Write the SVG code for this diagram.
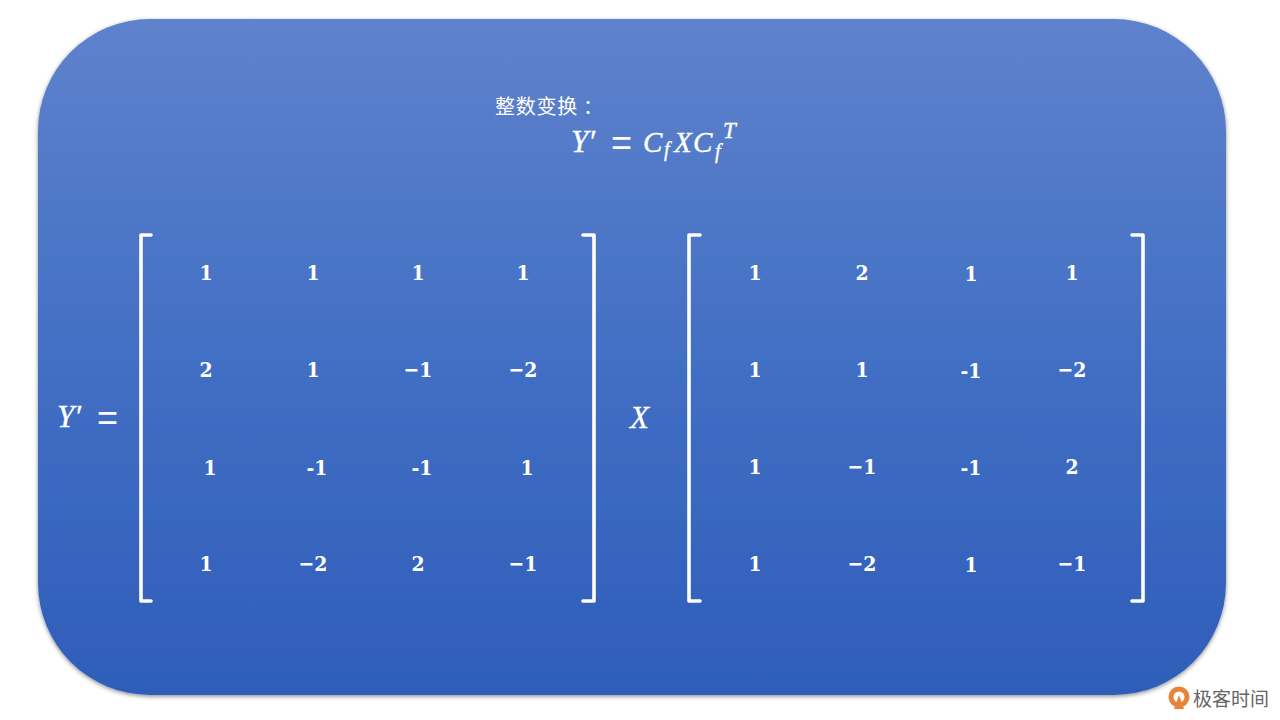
<svg xmlns="http://www.w3.org/2000/svg" width="1280" height="720" viewBox="0 0 1280 720">
<style>
.n{font-family:"DejaVu Serif Condensed","DejaVu Serif","Liberation Serif",serif;font-weight:700;font-size:21px;fill:#fff;text-anchor:middle}
.m{font-family:"Liberation Serif","DejaVu Serif",serif;font-style:italic;font-size:31px;fill:#fff;stroke:#fff;stroke-width:0.35}
.e{font-family:"Liberation Sans",sans-serif;font-size:36px;fill:#fff}
.b{fill:none;stroke:#fff;stroke-width:3.6;stroke-linejoin:round;stroke-linecap:round}
</style>
<defs>
<linearGradient id="bg" x1="0" y1="0" x2="0" y2="1"><stop offset="0" stop-color="#5f82cc"/><stop offset="0.5" stop-color="#426fc4"/><stop offset="1" stop-color="#2e5db9"/></linearGradient>
<filter id="sh" x="-5%" y="-5%" width="110%" height="110%"><feDropShadow dx="0" dy="1.5" stdDeviation="2" flood-color="#000" flood-opacity="0.45"/></filter>
</defs>
<rect id="panel" x="38" y="19" width="1188" height="676" rx="112" ry="112" fill="url(#bg)" filter="url(#sh)"/>
<g id="title">
<text x="495" y="114" font-family="'Noto Sans CJK SC','Noto Sans',sans-serif" font-size="20" letter-spacing="0.75" fill="#fff">整数变换<tspan dx="5">：</tspan></text>
<text class="m" x="571" y="152">Y′</text>
<text class="e" x="611" y="155">=</text>
<text class="m" x="643" y="152" style="font-size:29px">C</text><text class="m" x="664" y="156" style="font-size:20px">f</text>
<text class="m" x="674" y="152" style="font-size:29px">X</text>
<text class="m" x="693" y="152" style="font-size:29px">C</text><text class="m" x="715" y="158" style="font-size:20px">f</text>
<text class="m" x="723" y="138" style="font-size:23px">T</text>
</g>
<g id="lhs"><text class="m" x="57" y="427">Y′</text><text class="e" x="97" y="430">=</text></g>
<g id="left-matrix">
<path class="b" d="M151 235H141V601H151"/>
<path class="b" d="M583 235H594V601H583"/>
<text class="n" x="206" y="280">1</text><text class="n" x="313" y="280">1</text><text class="n" x="418" y="280">1</text><text class="n" x="523" y="280">1</text>
<text class="n" x="206" y="377">2</text><text class="n" x="313" y="377">1</text><text class="n" x="418" y="377">−1</text><text class="n" x="523" y="377">−2</text>
<text class="n" x="210" y="475">1</text><text class="n" x="317" y="475">-1</text><text class="n" x="422" y="475">-1</text><text class="n" x="527" y="475">1</text>
<text class="n" x="206" y="571">1</text><text class="n" x="313" y="571">−2</text><text class="n" x="418" y="571">2</text><text class="n" x="523" y="571">−1</text>
</g>
<g id="x-label"><text class="m" x="630" y="428">X</text></g>
<g id="right-matrix">
<path class="b" d="M700 235H689V601H700"/>
<path class="b" d="M1132 235H1143V601H1132"/>
<text class="n" x="755" y="280">1</text><text class="n" x="862" y="280">2</text><text class="n" x="971" y="281">1</text><text class="n" x="1072" y="280">1</text>
<text class="n" x="755" y="377">1</text><text class="n" x="862" y="377">1</text><text class="n" x="971" y="378">-1</text><text class="n" x="1072" y="377">−2</text>
<text class="n" x="755" y="474">1</text><text class="n" x="862" y="474">−1</text><text class="n" x="971" y="475">-1</text><text class="n" x="1072" y="474">2</text>
<text class="n" x="755" y="571">1</text><text class="n" x="862" y="571">−2</text><text class="n" x="971" y="572">1</text><text class="n" x="1072" y="571">−1</text>
</g>
<g id="logo">
<circle cx="1179" cy="697" r="8" fill="none" stroke="#e8843a" stroke-width="5"/>
<path d="M1179 695L1184 709H1174Z" fill="#e8843a"/>
<text x="1193" y="706" font-family="'Noto Sans CJK SC',sans-serif" font-size="19" fill="#666">极客时间</text>
</g>
</svg>
